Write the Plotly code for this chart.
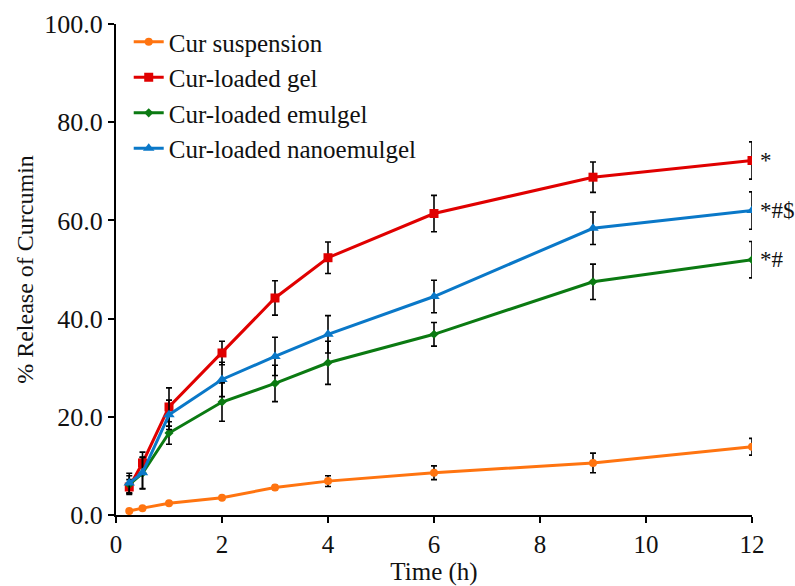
import plotly.graph_objects as go

time_h = [0.25, 0.5, 1, 2, 3, 4, 6, 9, 12]

series_names = ["Cur suspension", "Cur-loaded gel", "Cur-loaded emulgel", "Cur-loaded nanoemulgel"]

suspension = [0.8, 1.4, 2.4, 3.5, 5.6, 6.9, 8.6, 10.6, 13.9]
suspension_err = [0.2, 0.2, 0.3, 0.3, 0.4, 1.1, 1.4, 2.0, 1.7]

gel = [5.7, 10.6, 22.0, 33.0, 44.2, 52.4, 61.4, 68.8, 72.2]
gel_err = [1.5, 2.2, 3.9, 2.4, 3.5, 3.2, 3.7, 3.1, 3.8]

emulgel = [6.2, 8.5, 16.7, 23.0, 26.8, 31.0, 36.8, 47.5, 52.0]
emulgel_err = [1.8, 3.2, 2.3, 3.9, 3.7, 4.4, 2.4, 3.6, 3.7]

nanoemulgel = [6.5, 8.6, 20.4, 27.6, 32.3, 36.8, 44.5, 58.4, 62.0]
nanoemulgel_err = [2.0, 3.2, 3.0, 3.5, 3.9, 3.8, 3.3, 3.3, 3.8]

end_labels = ["", "*", "*#", "*#$"]

colors = ["#FF7410", "#E00000", "#0B7A12", "#0A78C8"]
symbols = ["circle", "square", "diamond", "triangle-up"]
sizes = [8, 9, 7, 10]

values = [suspension, gel, emulgel, nanoemulgel]
errors = [suspension_err, gel_err, emulgel_err, nanoemulgel_err]

SERIF = "Liberation Serif"
TXT = "#111"

fig = go.Figure()
for name, y, e, c, s, sz in zip(series_names, values, errors, colors, symbols, sizes):
    fig.add_trace(go.Scatter(
        x=time_h, y=y, name=name, mode="lines+markers",
        line=dict(color=c, width=3),
        marker=dict(color=c, symbol=s, size=sz),
        error_y=dict(type="data", array=e, visible=True, color="black", thickness=1.6, width=3),
    ))

for y, lab in zip(values, end_labels):
    if lab:
        fig.add_annotation(x=time_h[-1], y=y[-1], text=lab, showarrow=False,
                           xanchor="left", yanchor="middle", xshift=6,
                           font=dict(family=SERIF, size=23, color=TXT))

axis_common = dict(showline=True, linecolor="black", linewidth=2, ticks="outside",
                   tickcolor="black", tickwidth=2, ticklen=6, showgrid=False, zeroline=False,
                   automargin=False)

fig.update_layout(
    width=795, height=586,
    margin=dict(l=116, r=43, t=24, b=71),
    paper_bgcolor="white", plot_bgcolor="white",
    font=dict(family=SERIF, color=TXT),
    legend=dict(x=0.02, y=1.01, xanchor="left", yanchor="top",
                font=dict(family=SERIF, size=25, color=TXT),
                bgcolor="rgba(255,255,255,0)", tracegroupgap=0, itemwidth=30),
    showlegend=True,
)
fig.update_xaxes(range=[0, 12], tickvals=[0, 2, 4, 6, 8, 10, 12],
                 tickfont=dict(family=SERIF, size=25, color=TXT),
                 title=dict(text="Time (h)", font=dict(family=SERIF, size=25, color=TXT), standoff=3),
                 **axis_common)
fig.update_yaxes(range=[0, 100], tickvals=[0, 20, 40, 60, 80, 100], tickformat=".1f",
                 tickfont=dict(family=SERIF, size=26, color=TXT),
                 title=dict(text="% Release of Curcumin", font=dict(family=SERIF, size=24, color=TXT), standoff=4),
                 **axis_common)

fig.write_html("out.html")
